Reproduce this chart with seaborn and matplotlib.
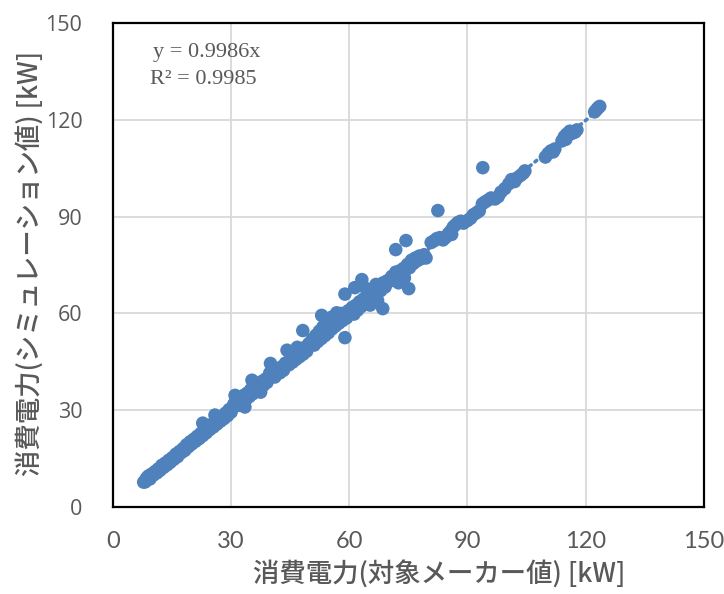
import matplotlib
matplotlib.use("Agg")
import matplotlib.pyplot as plt
import numpy as np
import pandas as pd
import seaborn as sns

# Measured (manufacturer) power vs simulated power, kW
maker_kw = [
    8.2, 8.5, 9.0, 9.4, 9.8, 10.3, 10.7, 11.2, 11.5, 12.0, 12.4, 12.9, 13.3, 13.8,
    14.2, 14.6, 15.1, 15.5, 16.0, 16.4, 16.9, 17.3, 17.8, 18.2, 18.7, 19.1, 19.6,
    20.0, 20.5, 21.0, 21.4, 21.9, 22.3, 22.8, 23.2, 23.7, 24.1, 24.6, 25.0, 25.5,
    25.9, 26.4, 26.8, 27.3, 27.7, 28.2, 28.6, 29.1, 29.5, 30.0, 22.8, 25.9, 7.8,
    30.3, 30.7, 31.0, 31.5, 31.9, 32.3, 32.8, 33.2, 33.7, 34.1, 34.6, 35.0, 35.3,
    35.5, 36.0, 36.4, 36.9, 37.3, 37.8, 38.2, 38.7, 39.1, 39.6, 37.5, 33.5,
    40.2, 40.6, 41.1, 41.5, 42.0, 42.4, 42.9, 43.3, 43.8, 44.2, 44.7, 45.1, 45.6,
    46.0, 46.5, 47.0, 47.4, 47.9, 48.3, 48.8, 49.2, 49.7, 48.2, 46.8, 40.0, 39.8,
    50.2, 50.6, 51.1, 51.5, 52.0, 52.4, 52.9, 53.3, 53.8, 54.2, 54.7, 55.1, 55.6,
    56.0, 56.5, 57.0, 57.4, 57.9, 58.3, 58.8, 59.3, 59.7, 58.9, 58.9, 53.0, 55.5, 56.8,
    60.2, 60.7, 61.2, 61.6, 62.1, 62.6, 63.0, 63.5, 64.0, 64.5, 65.0, 65.5, 66.0,
    66.5, 67.0, 67.5, 68.0, 68.6, 69.1, 69.6, 68.5, 61.4, 63.2, 64.2, 66.8, 65.3, 67.2,
    70.2, 70.8, 71.3, 71.8, 72.2, 72.8, 73.3, 73.8, 74.3, 74.8, 75.3, 75.8, 76.3,
    76.8, 77.3, 77.8, 78.3, 79.0, 79.5, 75.1, 71.8, 74.4, 72.5, 74.0,
    80.8, 81.5, 82.2, 83.0, 83.8, 84.5, 85.2, 85.8, 86.4, 87.0, 87.6, 88.3, 89.0,
    86.0, 82.5,
    90.0, 90.8, 91.5, 92.3, 93.0, 93.8, 94.5, 95.3, 96.0, 97.0, 97.8, 98.5, 93.9,
    99.5, 100.5, 101.2, 102.0, 102.6, 103.5, 104.2, 104.6,
    109.8, 110.5, 111.2, 111.8, 112.2,
    114.0, 114.6, 115.2, 115.0, 116.5, 117.3, 117.8, 116.0,
    122.3, 122.8, 123.2, 123.6,
]
simulated_kw = [
    7.8, 8.9, 9.6, 8.7, 10.2, 9.9, 11.0, 10.6, 11.8, 11.4, 12.9, 12.3, 13.6, 13.1,
    14.5, 13.9, 15.3, 14.8, 16.4, 15.6, 17.2, 16.8, 18.1, 17.5, 19.3, 18.6, 20.2,
    19.5, 21.0, 20.4, 21.9, 21.2, 22.8, 22.1, 23.9, 23.0, 25.2, 24.0, 25.6, 24.8,
    26.4, 25.7, 27.9, 26.6, 28.0, 27.4, 29.1, 28.3, 30.2, 29.4, 26.0, 28.5, 7.7,
    30.8, 31.9, 34.6, 32.4, 31.5, 33.8, 32.6, 34.6, 33.2, 35.3, 34.2, 36.4, 39.3,
    35.1, 37.6, 36.3, 37.9, 37.0, 38.9, 37.7, 39.6, 38.6, 40.4, 35.6, 31.0,
    40.5, 42.2, 40.3, 41.8, 42.8, 41.6, 43.5, 42.4, 44.6, 48.6, 44.1, 46.2, 44.9,
    47.1, 45.8, 47.8, 46.6, 48.9, 47.4, 49.5, 48.3, 50.6, 54.7, 49.5, 44.5, 41.5,
    50.5, 52.0, 50.2, 53.2, 51.3, 54.5, 52.2, 55.8, 53.1, 56.2, 54.0, 58.5, 55.2,
    57.8, 56.1, 58.8, 57.0, 60.0, 57.8, 59.5, 58.6, 60.8, 52.5, 66.0, 59.4, 58.8, 60.2,
    60.5, 61.8, 59.8, 62.5, 61.0, 63.6, 62.1, 64.4, 63.0, 65.2, 64.1, 66.4, 65.0,
    67.3, 66.0, 68.4, 67.1, 69.5, 68.2, 70.1, 61.5, 68.0, 70.5, 67.8, 69.0, 62.6, 64.0,
    70.0, 71.5, 70.3, 72.8, 71.6, 73.2, 72.0, 74.0, 73.4, 75.2, 74.2, 76.5, 75.5,
    77.2, 76.4, 77.8, 77.0, 78.2, 77.2, 67.7, 79.8, 82.6, 69.5, 71.0,
    82.0, 82.5, 83.2, 83.5, 82.8, 83.6, 84.8, 85.6, 86.8, 87.5, 88.2, 88.6, 88.0,
    84.5, 91.9,
    88.8, 89.5, 90.6, 91.2, 91.8, 94.0, 94.6, 95.2, 95.8, 95.5, 96.2, 97.6, 105.2,
    98.7, 100.2, 101.5, 100.9, 102.0, 102.8, 103.5, 104.2,
    108.5, 109.6, 110.4, 110.1, 111.0,
    113.5, 114.8, 115.6, 114.0, 115.8, 116.2, 116.9, 116.5,
    122.5, 123.2, 123.8, 124.2,
]
slope = 0.9986
r_squared = 0.9985
ticks = [0, 30, 60, 90, 120, 150]

df = pd.DataFrame({"maker": maker_kw, "sim": simulated_kw})

sns.set_style("white")
plt.rcParams["font.family"] = ["Noto Sans CJK JP", "DejaVu Sans"]

blue = "#4F81BD"
grey_text = "#595959"

fig = plt.figure(figsize=(7.24, 5.94), dpi=100)
ax = fig.add_axes([0.156, 0.1465, 0.816, 0.8145])

sns.scatterplot(data=df, x="maker", y="sim", ax=ax, color=blue, s=95,
                edgecolor="none", linewidth=0, zorder=3)

# zero-intercept linear trendline
xl = np.array([min(maker_kw), max(maker_kw)])
ax.plot(xl, slope * xl, linestyle=(0, (0.6, 1.4)), dash_capstyle="round",
        color=blue, linewidth=2.6, zorder=2)

ax.set_xlim(0, 150)
ax.set_ylim(0, 150)
ax.set_xticks(ticks)
ax.set_yticks(ticks)
ax.grid(True, color="#D9D9D9", linewidth=1.3, zorder=0)
ax.set_axisbelow(True)
for sp in ax.spines.values():
    sp.set_visible(True)
    sp.set_color("black")
    sp.set_linewidth(1.6)

ax.tick_params(axis="x", length=0, labelsize=17, labelcolor=grey_text, pad=17)
ax.tick_params(axis="y", length=0, labelsize=15.5, labelcolor=grey_text, pad=22)
for lab in ax.get_xticklabels():
    lab.set_fontfamily(["Liberation Sans Narrow", "Lato", "DejaVu Sans"])
for lab in ax.get_yticklabels():
    lab.set_fontfamily(["Open Sans", "DejaVu Sans"])

ax.set_xlabel("消費電力(対象メーカー値) [kW]", fontsize=19, color=grey_text,
              fontweight="medium")
ax.set_ylabel("消費電力(シミュレーション値) [kW]", fontsize=19, color=grey_text,
              fontweight="medium")
ax.xaxis.set_label_coords(0.553, -0.112)
ax.yaxis.set_label_coords(-0.118, 0.503)

ax.text(0.068, 0.94, f"y = {slope}x", transform=ax.transAxes, fontsize=16,
        color=grey_text, family=["Liberation Serif"], va="center")
ax.text(0.062, 0.883, f"R² = {r_squared}", transform=ax.transAxes, fontsize=16,
        color=grey_text, family=["Liberation Serif"], va="center")

fig.savefig("out.png", dpi=100)
